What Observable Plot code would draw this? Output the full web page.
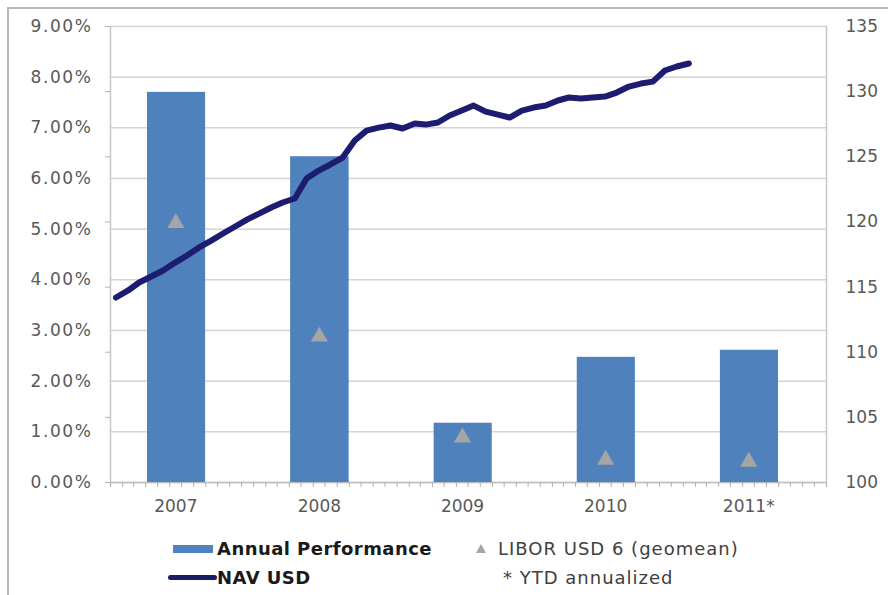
<!DOCTYPE html>
<html>
<head>
<meta charset="utf-8">
<script src="https://cdn.jsdelivr.net/npm/d3@7"></script>
<script src="https://cdn.jsdelivr.net/npm/@observablehq/plot@0.6"></script>
<style>
  html, body { margin: 0; padding: 0; background: #fff; }
  #wrap { position: relative; width: 888px; height: 595px; overflow: hidden; font-family: "DejaVu Sans", Verdana, sans-serif; }
  #frame { position: absolute; left: 7px; top: 7px; right: -4px; bottom: -4px; border-left: 2px solid #b8b8b8; border-top: 2px solid #b8b8b8; }
  #chart { position: absolute; left: 0; top: 0; }
  .lg { position: absolute; line-height: 22px; height: 22px; white-space: nowrap; }
  .bold { font-weight: bold; color: #1a1a1a; font-size: 18px; letter-spacing: 0.45px; }
  .reg { color: #404040; font-size: 18px; letter-spacing: 1px; }
</style>
</head>
<body>
<div id="wrap">
  <div id="frame"></div>
  <div id="chart"></div>
  <div class="lg" style="left:173px;top:545px;width:40px;height:8px;background:#4f81bd;"></div>
  <div class="lg bold" style="left:217px;top:538px;">Annual Performance</div>
  <div class="lg" style="left:168px;top:575px;width:49px;height:5px;background:#1b1b6b;border-radius:3px;"></div>
  <div class="lg bold" style="left:217px;top:567px;">NAV USD</div>
  <div class="lg" style="left:476px;top:544px;width:0;height:0;border-left:5px solid transparent;border-right:5px solid transparent;border-bottom:9px solid #a5a5a5;"></div>
  <div class="lg reg" style="left:498px;top:538px;">LIBOR USD 6 (geomean)</div>
  <div class="lg reg" style="left:503px;top:567px;">* YTD annualized</div>
</div>
<script>
// ---- data ----
const years = ["2007", "2008", "2009", "2010", "2011"];
const yearLabels = ["2007", "2008", "2009", "2010", "2011*"];
const annualPerformance = [7.70, 6.43, 1.17, 2.47, 2.61]; // %
const liborGeomean = [5.12, 2.88, 0.89, 0.45, 0.41];     // %

const navMonths = [
  "2007-01","2007-02","2007-03","2007-04","2007-05","2007-06","2007-07","2007-08","2007-09","2007-10","2007-11","2007-12",
  "2008-01","2008-02","2008-03","2008-04","2008-05","2008-06","2008-07","2008-08","2008-09","2008-10","2008-11","2008-12",
  "2009-01","2009-02","2009-03","2009-04","2009-05","2009-06","2009-07","2009-08","2009-09","2009-10","2009-11","2009-12",
  "2010-01","2010-02","2010-03","2010-04","2010-05","2010-06","2010-07","2010-08","2010-09","2010-10","2010-11","2010-12",
  "2011-01"
];
const navUSD = [
  114.20, 114.74, 115.35, 115.81, 116.27, 116.88, 117.42, 118.04, 118.57, 119.11, 119.65, 120.18,
  120.64, 121.11, 121.49, 121.80, 123.33, 123.94, 124.41, 124.94, 126.25, 127.01, 127.24, 127.40,
  127.17, 127.55, 127.47, 127.63, 128.17, 128.55, 128.93, 128.47, 128.24, 128.01, 128.55, 128.78,
  128.93, 129.32, 129.55, 129.47, 129.55, 129.62, 129.93, 130.39, 130.62, 130.77, 131.62, 131.93,
  132.16
];

const leftTicks = [0, 1, 2, 3, 4, 5, 6, 7, 8, 9];
const rightTicks = [100, 105, 110, 115, 120, 125, 130, 135];

// ---- tables ----
const bars = years.map((y, i) => ({
  start: new Date(`${y}-01-01`),
  mid: new Date(`${y}-07-02`),
  label: yearLabels[i],
  perf: annualPerformance[i],
  libor: liborGeomean[i]
}));
const nav = navMonths.map((m, i) => ({ date: new Date(`${m}-15`), value: navUSD[i] }));

// secondary axis mapping (NAV 100..135 onto 0..9 %)
const navToPct = d3.scaleLinear([100, 135], [0, 9]);

const labelByTime = new Map(bars.map(d => [+d.mid, d.label]));
const gray = "#595959";

const chart = Plot.plot({
  width: 888,
  height: 525,
  marginLeft: 110,
  marginRight: 62,
  marginTop: 26,
  marginBottom: 43,
  style: { fontFamily: "DejaVu Sans, Verdana, sans-serif", fontSize: "17px", background: "transparent" },
  x: { type: "utc", domain: [new Date("2007-01-01"), new Date("2012-01-01")], axis: null },
  y: { domain: [0, 9], axis: null },
  marks: [
    Plot.gridY(leftTicks, { stroke: "#d4d4d4", strokeOpacity: 1, strokeWidth: 1.5 }),
    Plot.frame({ anchor: "left", stroke: "#c8c8c8", strokeWidth: 1.5 }),
    Plot.frame({ anchor: "right", stroke: "#c8c8c8", strokeWidth: 1.5 }),
    Plot.ruleY([0], { stroke: "#bfbfbf", strokeWidth: 1.5 }),
    Plot.rectY(bars, { x: "start", y: "perf", interval: "year", fill: "#4f81bd", insetLeft: 37, insetRight: 48 }),
    Plot.dot(bars, { x: "mid", y: "libor", symbol: "triangle", r: 6.4, fill: "#a5a5a5", stroke: "none", dx: -6 }),
    Plot.line(nav, { x: "date", y: d => navToPct(d.value), stroke: "#1c1c70", strokeWidth: 6, strokeLinejoin: "round", strokeLinecap: "round" }),
    // monthly ticks along x axis
    Plot.axisX({ ticks: d3.utcMonth.range(new Date("2007-01-01"), new Date("2012-01-02")), tickSize: 5, tickFormat: () => "", stroke: "#b0b0b0" }),
    // year labels
    Plot.axisX({ ticks: bars.map(d => d.mid), tickSize: 0, tickPadding: 17, tickFormat: d => labelByTime.get(+d), fill: gray, dx: -6, fontSize: 17 }),
    // left axis
    Plot.axisY({ anchor: "left", ticks: leftTicks, tickSize: 0, tickPadding: 18, tickFormat: d => d.toFixed(2) + "%", fill: gray, fontSize: 17 }),
    // small ticks on left side (secondary axis divisions)
    Plot.axisY({ anchor: "left", ticks: rightTicks.map(navToPct), tickSize: 5, tickFormat: () => "", stroke: "#b0b0b0" }),
    // right axis
    Plot.axisY({ anchor: "right", ticks: rightTicks.map(navToPct), tickSize: 0, tickPadding: 19, tickFormat: d => Math.round(navToPct.invert(d)), fill: gray, fontSize: 17 })
  ]
});
document.getElementById("chart").appendChild(chart);
// widen the percentage labels slightly (the original uses a wider '%' glyph)
d3.select(chart).selectAll("text").filter(function () { return /%$/.test(this.textContent); })
  .style("letter-spacing", "1.6px");
</script>
</body>
</html>
